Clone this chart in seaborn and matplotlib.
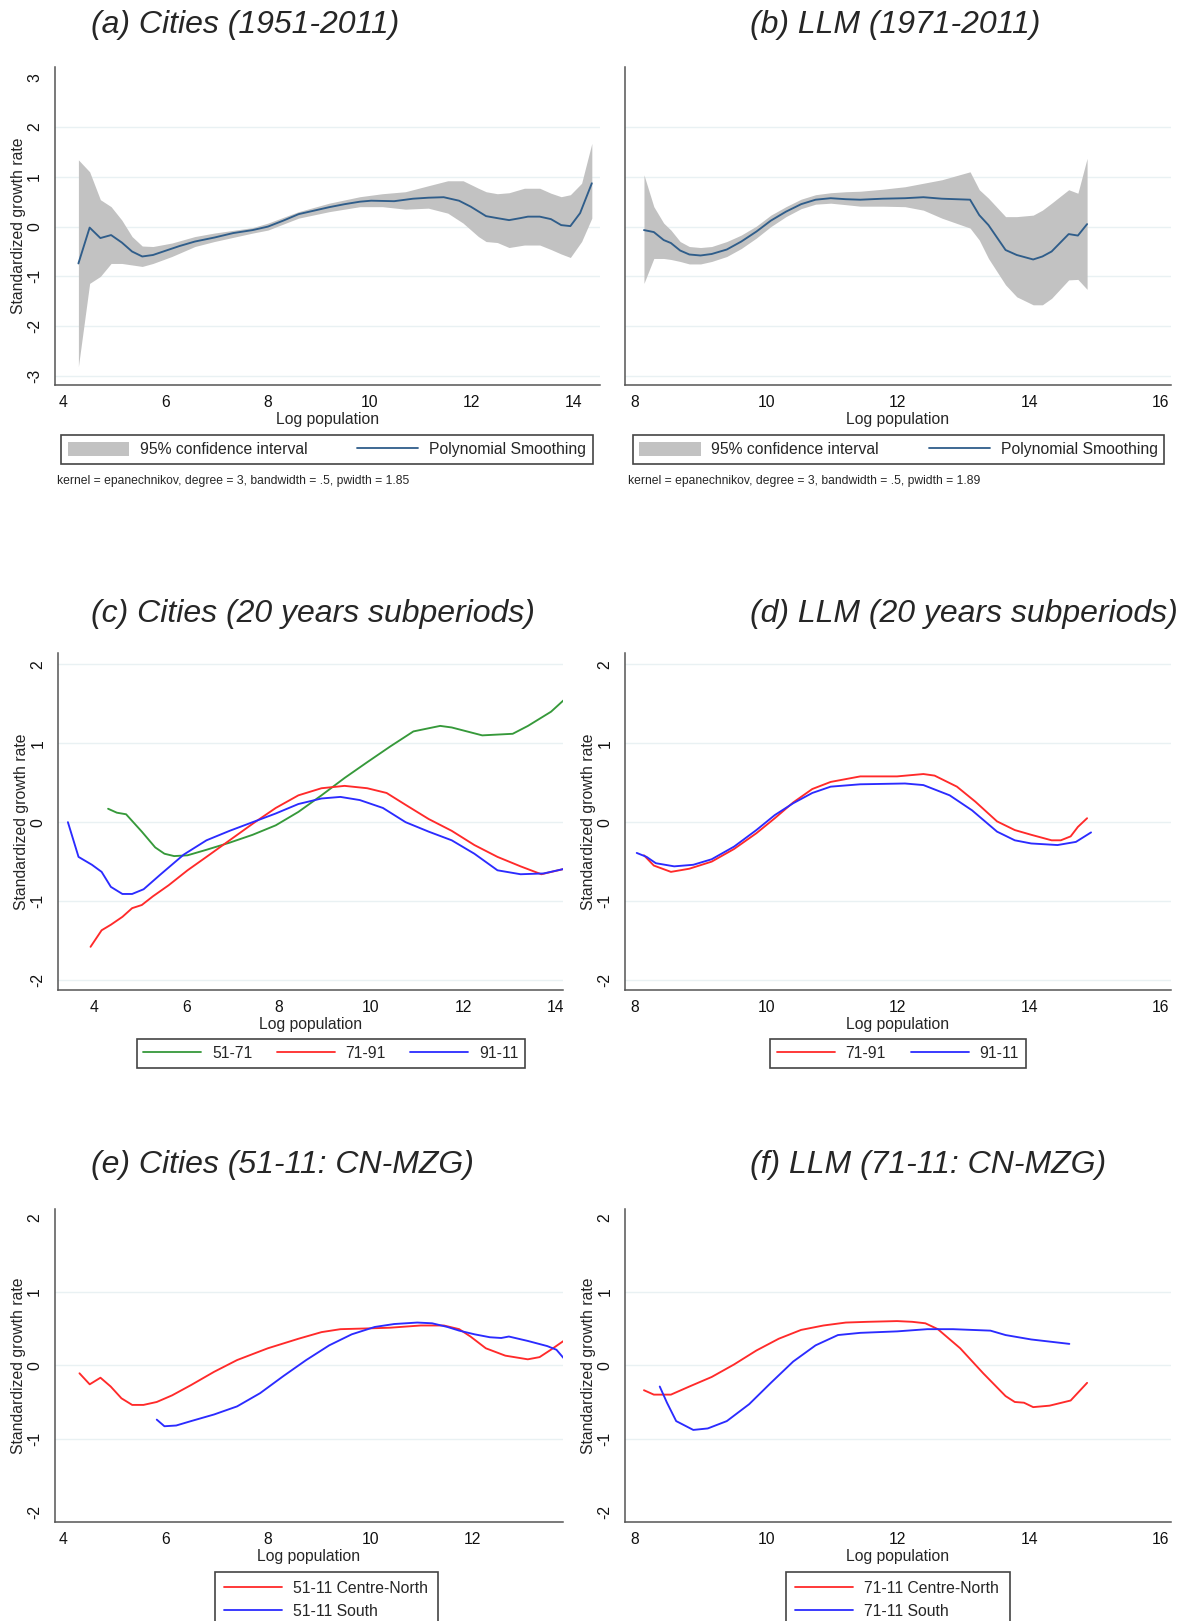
import matplotlib
matplotlib.use("Agg")
import matplotlib.pyplot as plt
from matplotlib.lines import Line2D
from matplotlib.patches import Patch
from matplotlib.transforms import Bbox, TransformedBbox
import seaborn as sns

# ---------- data ----------
# (a) Cities 1951-2011: smoothed line + 95% CI
a_line_x = [4.30, 4.52, 4.73, 4.94, 5.15, 5.35, 5.55, 5.76, 5.99, 6.28, 6.58, 6.96, 7.33, 7.71,
            8.01, 8.31, 8.61, 8.91, 9.21, 9.51, 9.81, 10.03, 10.48, 10.85, 11.15, 11.45, 11.75,
            11.98, 12.28, 12.50, 12.73, 12.95, 13.10, 13.33, 13.55, 13.75, 13.93, 14.12, 14.35]
a_line_y = [-0.74, -0.02, -0.23, -0.17, -0.32, -0.50, -0.60, -0.57, -0.49, -0.39, -0.30, -0.22,
            -0.13, -0.07, 0.00, 0.12, 0.25, 0.32, 0.39, 0.45, 0.50, 0.52, 0.51, 0.56, 0.58, 0.59,
            0.52, 0.40, 0.21, 0.17, 0.13, 0.17, 0.20, 0.20, 0.15, 0.03, 0.01, 0.27, 0.87]
a_ci_x = [4.30, 4.52, 4.73, 4.94, 5.15, 5.35, 5.55, 5.76, 6.13, 6.58, 6.96, 7.71, 8.01, 8.61,
          9.21, 9.81, 10.25, 10.70, 11.15, 11.53, 11.83, 12.13, 12.28, 12.50, 12.73, 13.03,
          13.33, 13.55, 13.75, 13.93, 14.15, 14.35]
a_ci_hi = [1.34, 1.10, 0.54, 0.40, 0.13, -0.20, -0.39, -0.40, -0.33, -0.20, -0.13, -0.02, 0.07,
           0.30, 0.47, 0.60, 0.66, 0.70, 0.82, 0.92, 0.92, 0.77, 0.70, 0.66, 0.68, 0.77, 0.77,
           0.67, 0.60, 0.64, 0.87, 1.67]
a_ci_lo = [-2.81, -1.14, -1.00, -0.74, -0.74, -0.77, -0.80, -0.74, -0.60, -0.40, -0.30, -0.13,
           -0.07, 0.17, 0.30, 0.40, 0.40, 0.35, 0.37, 0.27, 0.07, -0.20, -0.30, -0.32, -0.42,
           -0.37, -0.37, -0.46, -0.55, -0.62, -0.30, 0.17]

# (b) LLM 1971-2011
b_x = [8.14, 8.29, 8.44, 8.55, 8.69, 8.83, 9.00, 9.17, 9.40, 9.62, 9.85, 10.07, 10.30, 10.53,
       10.75, 10.98, 11.21, 11.43, 11.77, 12.11, 12.39, 12.67, 13.10, 13.24, 13.38, 13.64,
       13.81, 14.06, 14.20, 14.34, 14.60, 14.74, 14.88]
b_line_y = [-0.07, -0.11, -0.27, -0.33, -0.48, -0.56, -0.58, -0.55, -0.46, -0.30, -0.10, 0.12,
            0.30, 0.45, 0.54, 0.57, 0.55, 0.54, 0.56, 0.57, 0.59, 0.56, 0.54, 0.23, 0.03, -0.47,
            -0.57, -0.66, -0.60, -0.50, -0.15, -0.18, 0.05]
b_ci_hi = [1.04, 0.40, 0.07, -0.07, -0.30, -0.40, -0.42, -0.40, -0.30, -0.17, 0.01, 0.23, 0.40,
           0.55, 0.64, 0.68, 0.70, 0.71, 0.75, 0.80, 0.87, 0.94, 1.10, 0.74, 0.57, 0.20, 0.20,
           0.23, 0.33, 0.47, 0.74, 0.67, 1.37]
b_ci_lo = [-1.14, -0.64, -0.64, -0.66, -0.70, -0.75, -0.75, -0.70, -0.60, -0.44, -0.23, 0.00,
           0.20, 0.36, 0.45, 0.47, 0.44, 0.41, 0.41, 0.40, 0.33, 0.17, -0.03, -0.27, -0.64,
           -1.17, -1.41, -1.57, -1.57, -1.44, -1.07, -1.06, -1.26]

# (c) Cities, 20-year subperiods
c51_x = [4.31, 4.50, 4.70, 5.04, 5.33, 5.53, 5.74, 6.03, 6.44, 6.94, 7.44, 7.94, 8.43, 8.93,
         9.43, 9.92, 10.42, 10.92, 11.25, 11.50, 11.75, 12.08, 12.41, 12.74, 13.07, 13.40,
         13.90, 14.20]
c51_y = [0.17, 0.12, 0.10, -0.12, -0.32, -0.40, -0.43, -0.42, -0.35, -0.26, -0.16, -0.04, 0.13,
         0.34, 0.56, 0.76, 0.96, 1.15, 1.19, 1.22, 1.20, 1.15, 1.10, 1.11, 1.12, 1.22, 1.40,
         1.56]
c71_x = [3.93, 4.17, 4.37, 4.62, 4.83, 5.04, 5.28, 5.62, 6.03, 6.44, 6.94, 7.44, 7.94, 8.43,
         8.93, 9.43, 9.92, 10.34, 10.75, 11.25, 11.75, 12.24, 12.74, 13.24, 13.69, 14.20]
c71_y = [-1.58, -1.37, -1.30, -1.20, -1.09, -1.05, -0.94, -0.80, -0.61, -0.44, -0.23, -0.02,
         0.18, 0.34, 0.43, 0.46, 0.43, 0.37, 0.22, 0.04, -0.11, -0.29, -0.44, -0.56, -0.66,
         -0.59]
c91_x = [3.44, 3.67, 3.96, 4.17, 4.37, 4.62, 4.83, 5.08, 5.45, 5.95, 6.44, 6.94, 7.44, 7.94,
         8.43, 8.93, 9.34, 9.76, 10.26, 10.75, 11.25, 11.75, 12.24, 12.74, 13.24, 13.74, 14.20]
c91_y = [0.00, -0.44, -0.54, -0.63, -0.82, -0.91, -0.91, -0.85, -0.66, -0.41, -0.23, -0.11,
         0.00, 0.11, 0.23, 0.30, 0.32, 0.28, 0.18, 0.00, -0.12, -0.23, -0.40, -0.61, -0.66,
         -0.65, -0.59]

# (d) LLM, 20-year subperiods
d71_x = [8.14, 8.29, 8.55, 8.83, 9.17, 9.51, 9.85, 10.13, 10.41, 10.70, 10.98, 11.43, 11.99,
         12.39, 12.56, 12.90, 13.18, 13.51, 13.78, 14.03, 14.34, 14.48, 14.63, 14.74, 14.88]
d71_y = [-0.42, -0.55, -0.63, -0.59, -0.50, -0.34, -0.14, 0.05, 0.25, 0.42, 0.51, 0.58, 0.58,
         0.61, 0.59, 0.45, 0.26, 0.01, -0.10, -0.16, -0.23, -0.23, -0.18, -0.06, 0.05]
d91_x = [8.03, 8.18, 8.32, 8.60, 8.89, 9.17, 9.51, 9.85, 10.13, 10.41, 10.70, 10.98, 11.43,
         12.11, 12.39, 12.79, 13.13, 13.51, 13.78, 14.03, 14.43, 14.71, 14.94]
d91_y = [-0.39, -0.44, -0.52, -0.56, -0.54, -0.47, -0.31, -0.10, 0.09, 0.24, 0.37, 0.45, 0.48,
         0.49, 0.47, 0.34, 0.15, -0.12, -0.23, -0.27, -0.29, -0.25, -0.13]

# (e) Cities 51-11 by macro-area
ecn_x = [4.32, 4.52, 4.73, 4.93, 5.14, 5.35, 5.57, 5.83, 6.13, 6.50, 6.95, 7.40, 8.00, 8.60,
         9.05, 9.42, 9.94, 10.39, 10.99, 11.44, 11.74, 11.96, 12.26, 12.64, 13.08, 13.31, 13.53,
         13.80]
ecn_y = [-0.11, -0.26, -0.17, -0.29, -0.45, -0.54, -0.54, -0.50, -0.41, -0.27, -0.09, 0.07,
         0.23, 0.36, 0.45, 0.49, 0.50, 0.51, 0.54, 0.54, 0.49, 0.39, 0.23, 0.13, 0.08, 0.11,
         0.21, 0.34]
es_x = [5.83, 5.98, 6.21, 6.50, 6.95, 7.40, 7.85, 8.30, 8.75, 9.20, 9.64, 10.09, 10.47, 10.92,
        11.21, 11.51, 11.74, 12.04, 12.34, 12.56, 12.71, 13.08, 13.46, 13.64, 13.80]
es_y = [-0.74, -0.83, -0.82, -0.76, -0.67, -0.56, -0.38, -0.15, 0.07, 0.27, 0.42, 0.52, 0.56,
        0.58, 0.57, 0.52, 0.47, 0.42, 0.38, 0.37, 0.39, 0.33, 0.26, 0.21, 0.08]

# (f) LLM 71-11 by macro-area
fcn_x = [8.14, 8.29, 8.55, 8.83, 9.17, 9.51, 9.85, 10.19, 10.53, 10.87, 11.21, 11.54, 11.99,
         12.22, 12.42, 12.61, 12.95, 13.30, 13.64, 13.78, 13.92, 14.06, 14.31, 14.63, 14.88]
fcn_y = [-0.34, -0.40, -0.40, -0.29, -0.16, 0.01, 0.20, 0.36, 0.48, 0.54, 0.58, 0.59, 0.60,
         0.59, 0.57, 0.49, 0.23, -0.11, -0.42, -0.50, -0.51, -0.57, -0.55, -0.48, -0.24]
fs_x = [8.38, 8.49, 8.63, 8.89, 9.11, 9.40, 9.74, 10.07, 10.41, 10.75, 11.09, 11.43, 11.99,
        12.45, 12.84, 13.41, 13.64, 14.03, 14.61]
fs_y = [-0.29, -0.51, -0.76, -0.88, -0.86, -0.76, -0.53, -0.24, 0.05, 0.27, 0.41, 0.44, 0.46,
        0.49, 0.49, 0.47, 0.41, 0.35, 0.29]

titles = ["(a) Cities (1951-2011)", "(b) LLM (1971-2011)",
          "(c) Cities (20 years subperiods)", "(d) LLM (20 years subperiods)",
          "(e) Cities (51-11: CN-MZG)", "(f) LLM (71-11: CN-MZG)"]
notes = ["kernel = epanechnikov, degree = 3, bandwidth = .5, pwidth = 1.85",
         "kernel = epanechnikov, degree = 3, bandwidth = .5, pwidth = 1.89"]

# ---------- styling ----------
sns.set_style("white")
plt.rcParams["font.family"] = ["Liberation Sans", "DejaVu Sans"]
plt.rcParams["axes.unicode_minus"] = False

NAVY = "#2f5d8a"
CI = "#c2c2c2"
GREEN = "#36993a"
RED = "#ff2a2a"
BLUE = "#2b2bff"
AXC = "#555555"
GRID = "#e9f1f3"
FS = 11.3

W, H = 1183, 1621
fig = plt.figure(figsize=(W / 100, H / 100), dpi=100)


def panel(left, right, top, bottom):
    return fig.add_axes([left / W, 1 - bottom / H, (right - left) / W, (bottom - top) / H])


def style(ax, xlim, ylim, xticks, yticks, grid, show_y=True):
    ax.set_xlim(xlim)
    ax.set_ylim(ylim)
    for g in grid:
        ax.axhline(g, color=GRID, lw=1.0, zorder=0)
    ax.set_xticks(xticks)
    ax.set_xticklabels([str(t) for t in xticks])
    ax.set_yticks(yticks)
    ax.set_yticklabels([str(t) for t in yticks] if show_y else [])
    for lab in ax.get_yticklabels():
        lab.set_rotation(90)
        lab.set_va("center")
    ax.tick_params(axis="both", direction="out", length=6, width=1, color=AXC,
                   labelsize=FS, labelcolor="#111111")
    ax.tick_params(axis="x", pad=1.5)
    ax.tick_params(axis="y", pad=3)
    for s in ["top", "right"]:
        ax.spines[s].set_visible(False)
    for s in ["left", "bottom"]:
        ax.spines[s].set_color(AXC)
        ax.spines[s].set_linewidth(1.1)
    ax.set_xlabel("Log population", fontsize=FS, labelpad=1)
    if show_y:
        ax.set_ylabel("Standardized growth rate", fontsize=FS)
        w = ax.get_position().width * W
        ax.yaxis.set_label_coords(-29 / w, 0.5)
    else:
        ax.set_ylabel("")


def legend(ax, handles, labels, x0, x1, top, ncol, hl, bp=0.42, ls=0.25):
    ax.legend(handles, labels, loc="upper left",
              bbox_to_anchor=(x0 / W, 1 - top / H, (x1 - x0) / W, 0.001),
              bbox_transform=fig.transFigure, mode="expand", ncol=ncol,
              fontsize=FS, frameon=True, fancybox=False, framealpha=1,
              edgecolor="#444444", borderaxespad=0, borderpad=bp,
              handlelength=hl, handleheight=1.0, handletextpad=0.7,
              columnspacing=1.5, labelspacing=ls)
    ax.get_legend().get_frame().set_linewidth(1.2)


def line(ax, xs, ys, color):
    sns.lineplot(x=xs, y=ys, ax=ax, color=color, lw=1.35, sort=False, estimator=None)


# (a)
ax = panel(54.7, 600, 66.7, 385)
ax.fill_between(a_ci_x, a_ci_lo, a_ci_hi, color=CI, lw=0, zorder=1)
line(ax, a_line_x, a_line_y, NAVY)
style(ax, (3.836, 14.51), (-3.18, 3.21), [4, 6, 8, 10, 12, 14], [-3, -2, -1, 0, 1, 2, 3],
      [-3, -2, -1, 0, 1, 2])
legend(ax, [Patch(facecolor=CI, edgecolor="none"), Line2D([], [], color=NAVY, lw=1.3)],
       ["95% confidence interval", "Polynomial Smoothing"], 61, 593, 437, 2, 3.9)

# (b)
ax = panel(624.9, 1170.6, 66.7, 385)
ax.fill_between(b_x, b_ci_lo, b_ci_hi, color=CI, lw=0, zorder=1)
line(ax, b_x, b_line_y, NAVY)
style(ax, (7.85, 16.15), (-3.18, 3.21), [8, 10, 12, 14, 16], [-3, -2, -1, 0, 1, 2, 3],
      [-3, -2, -1, 0, 1, 2], show_y=False)
legend(ax, [Patch(facecolor=CI, edgecolor="none"), Line2D([], [], color=NAVY, lw=1.3)],
       ["95% confidence interval", "Polynomial Smoothing"], 632.7, 1164.3, 437, 2, 3.9)

# (c)
ax = panel(58.2, 562.6, 653.3, 990)
line(ax, c51_x, c51_y, GREEN)
line(ax, c71_x, c71_y, RED)
line(ax, c91_x, c91_y, BLUE)
style(ax, (3.23, 14.15), (-2.127, 2.14), [4, 6, 8, 10, 12, 14], [-2, -1, 0, 1, 2],
      [-2, -1, 0, 1, 2])
# the source panel is cropped at the right edge, cutting the last tick label
clip = TransformedBbox(Bbox([[-0.2, -0.3], [1.0, 0.0]]), ax.transAxes)
last = ax.get_xticklabels()[-1]
last.set_clip_box(clip)
last.set_clip_on(True)
legend(ax, [Line2D([], [], color=c, lw=1.3) for c in (GREEN, RED, BLUE)],
       ["51-71", "71-91", "91-11"], 136.6, 525, 1040.7, 3, 3.7)

# (d)
ax = panel(624.9, 1170.6, 653.3, 990)
line(ax, d71_x, d71_y, RED)
line(ax, d91_x, d91_y, BLUE)
style(ax, (7.85, 16.15), (-2.127, 2.14), [8, 10, 12, 14, 16], [-2, -1, 0, 1, 2],
      [-2, -1, 0, 1, 2])
legend(ax, [Line2D([], [], color=c, lw=1.3) for c in (RED, BLUE)],
       ["71-91", "91-11"], 770, 1025.6, 1040.7, 2, 3.7)

# (e)
ax = panel(54.7, 562.6, 1209.3, 1521.7)
line(ax, ecn_x, ecn_y, RED)
line(ax, es_x, es_y, BLUE)
style(ax, (3.836, 13.76), (-2.128, 2.12), [4, 6, 8, 10, 12], [-2, -1, 0, 1, 2],
      [-1, 0, 1])
legend(ax, [Line2D([], [], color=c, lw=1.3) for c in (RED, BLUE)],
       ["51-11 Centre-North", "51-11 South"], 215, 438, 1574, 1, 3.7, bp=0.55, ls=0.45)

# (f)
ax = panel(624.9, 1170.6, 1209.3, 1521.7)
line(ax, fcn_x, fcn_y, RED)
line(ax, fs_x, fs_y, BLUE)
style(ax, (7.85, 16.15), (-2.128, 2.12), [8, 10, 12, 14, 16], [-2, -1, 0, 1, 2],
      [-1, 0, 1])
legend(ax, [Line2D([], [], color=c, lw=1.3) for c in (RED, BLUE)],
       ["71-11 Centre-North", "71-11 South"], 786, 1009.7, 1574, 1, 3.7, bp=0.55, ls=0.45)

# titles and notes
title_pos = [(91, 25), (750, 25), (91, 614), (750, 614), (91, 1165), (750, 1165)]
for t, (x, y) in zip(titles, title_pos):
    fig.text(x / W, 1 - y / H, t, fontsize=23, style="italic", ha="left", va="center")
fig.text(56.6 / W, 1 - 481 / H, notes[0], fontsize=8.7, ha="left", va="center")
fig.text(628 / W, 1 - 481 / H, notes[1], fontsize=8.7, ha="left", va="center")

fig.savefig("out.png", dpi=100)
